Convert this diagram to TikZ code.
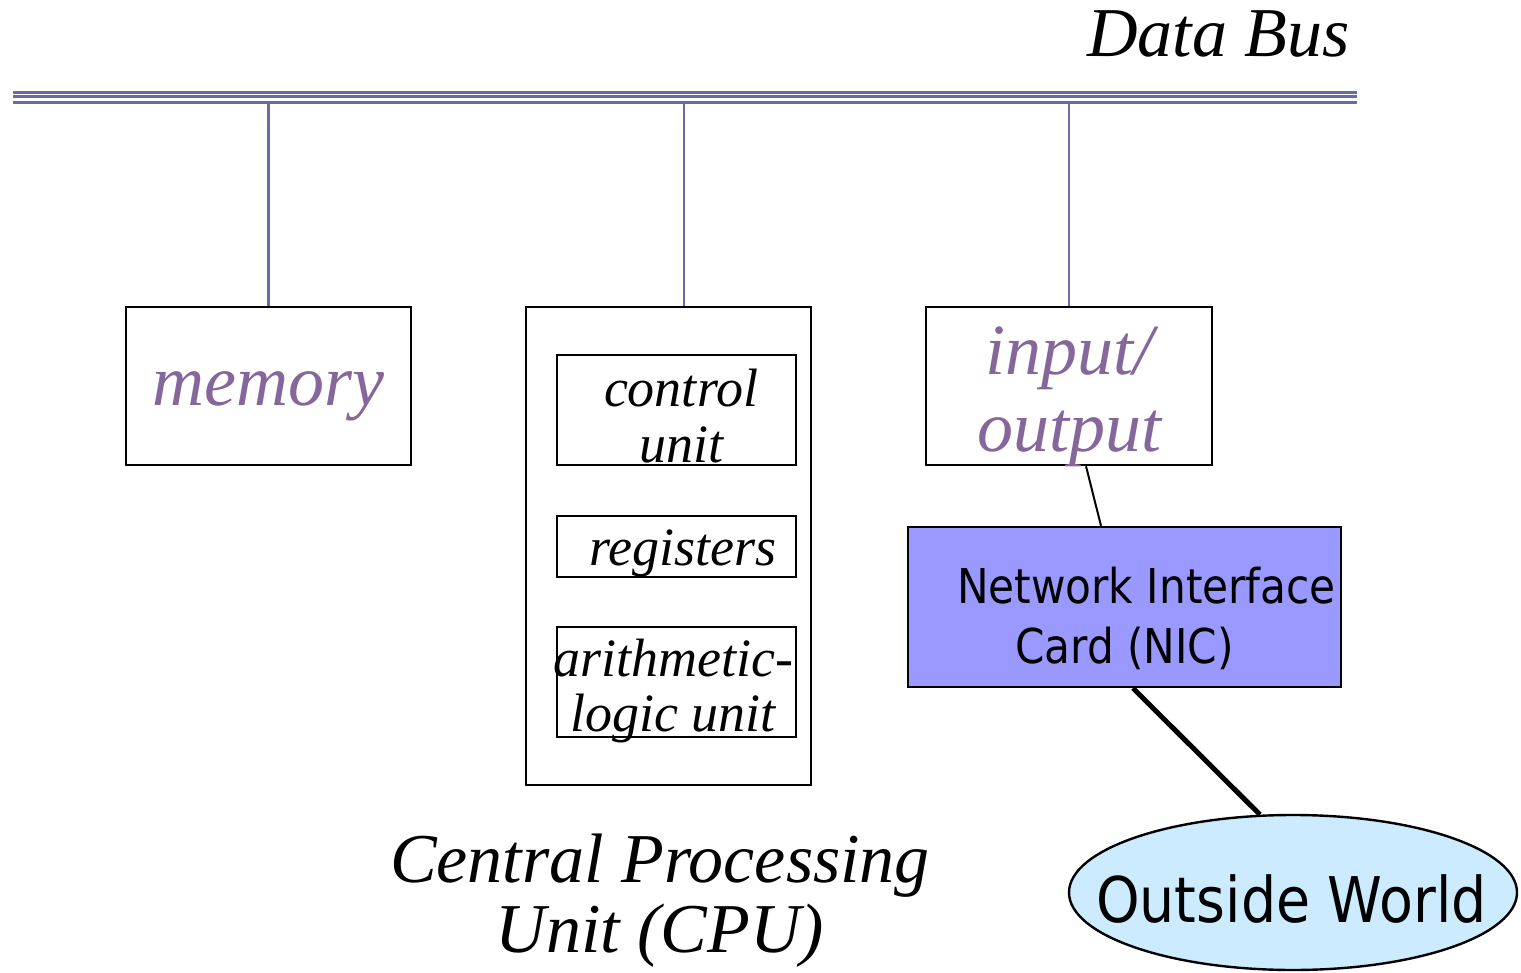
\documentclass[tikz,border=0pt]{standalone}
\usepackage{fontspec}
\setmainfont{Liberation Serif}
\newfontfamily\nicfont[FakeStretch=0.88]{DejaVu Sans}
\usetikzlibrary{arrows.meta,positioning,calc,shapes.geometric}

\definecolor{busline}{HTML}{6B6BA3}
\definecolor{plum}{HTML}{85679B}
\definecolor{nicblue}{HTML}{9999FF}
\definecolor{skyfill}{HTML}{CCEBFF}

\begin{document}
\begin{tikzpicture}[x=0.5pt,y=-0.5pt,>=Latex,
 box/.style={draw,line width=1.2pt,inner sep=0pt,align=center},
 words/.style={inner sep=0pt,align=center},
 bigit/.style={font=\fontsize{36}{38.5}\selectfont\itshape,text=plum},
 smallit/.style={font=\fontsize{27}{27.8}\selectfont\itshape},
 caption/.style={font=\fontsize{35}{35}\selectfont\itshape,inner sep=0pt,align=center},
 busrail/.style={draw=busline,line width=1.5pt},
 drop/.style={draw=busline,line width=1.1pt}]
\useasboundingbox (0,0) rectangle (1521,973);

% the bus: three rails
\coordinate (busL) at (13,103);
\coordinate (busR) at (1357,103);
\foreach \dy in {0,-6,-10}
  \draw[busrail] ($(busL)+(0,\dy)$) -- ($(busR)+(0,\dy)$);
\node[caption,anchor=base east] (bustag) at (1350,57) {Data Bus};

% memory
\node[box,bigit,minimum width=142.5pt,minimum height=79pt,text height=19pt,text depth=0pt]
 (mem) at (268.5,386) {memory};

% cpu and its parts
\node[box,minimum width=142.5pt,minimum height=239pt] (cpu) at (668.5,546) {};
\node[box,minimum width=119.5pt,minimum height=55pt] (ctrl) at (676.5,410) {};
\node[words,smallit] (ctrltext) at (681,416) {control\\unit};
\node[box,smallit,minimum width=119.5pt,minimum height=30.5pt,text height=18.5pt,text depth=0pt]
 (regs) at (676.5,546.5) {\ registers};
\node[box,minimum width=119.5pt,minimum height=55pt] (alu) at (676.5,682) {};
\node[words,smallit] (alutext) at (673,691) {arithmetic-\\logic unit};
\node[caption] (cpucap) at (660,901) {Central Processing\\Unit (CPU)};

% io
\node[box,minimum width=143pt,minimum height=79pt] (io) at (1069,386) {};
\node[words,bigit] (iotext) at (1069,397) {input/\\output};

% taps from the bus
\coordinate (cputap) at ($(cpu.north)+(15.5,0)$);
\draw[drop] (mem.north) -- (mem.north |- busL);
\draw[drop] (cputap) -- (cputap |- busL);
\draw[drop] (io.north) -- (io.north |- busL);

% network side
\node[box,fill=nicblue,minimum width=216.5pt,minimum height=80pt] (nic) at (1124.5,607) {};
\node[words,font=\nicfont\fontsize{24}{30}\selectfont] (nictext) at (1124.5,618.5)
 {\hspace*{22pt}Network Interface\\Card (NIC)};
\node[draw,line width=1.2pt,ellipse,fill=skyfill,minimum width=224pt,minimum height=77.5pt]
 (world) at (1293,892.5) {};
\node[font=\nicfont\fontsize{31.5}{31.5}\selectfont,anchor=base,inner sep=0pt]
 (worldtext) at (1291.5,922) {Outside World};

\draw[line width=1pt] ($(io.south)+(17,0)$) -- ($(nic.north)+(-23.5,0)$);
\draw[line width=2.5pt] ($(nic.south)+(8.5,0)$) -- (world.113);
\end{tikzpicture}
\end{document}
